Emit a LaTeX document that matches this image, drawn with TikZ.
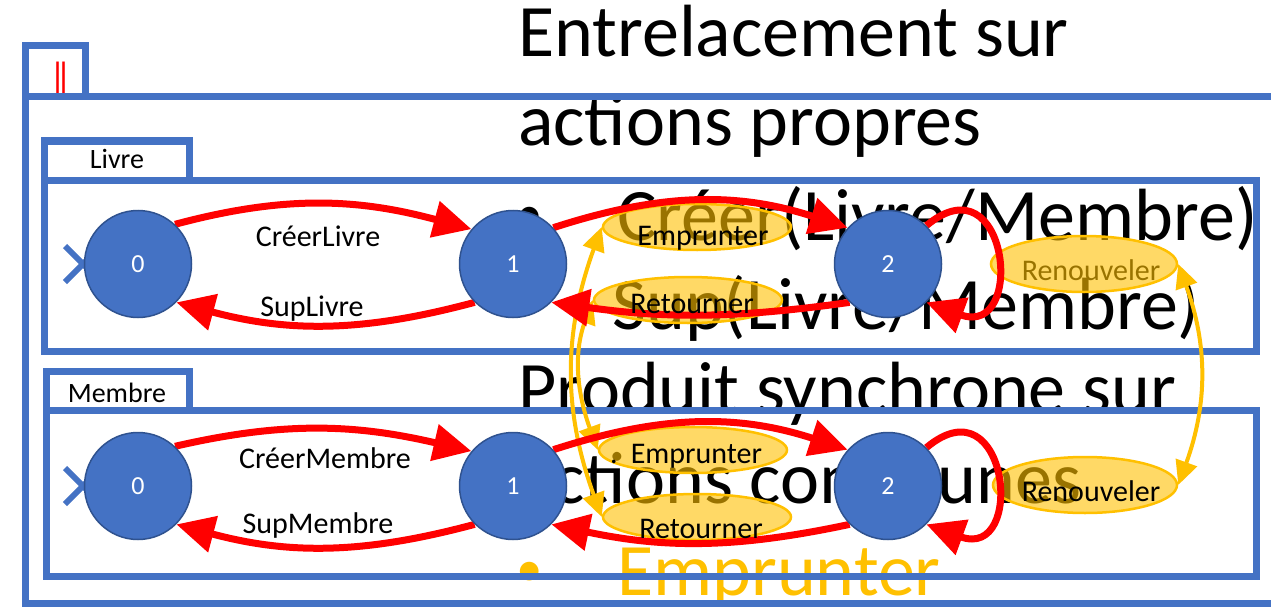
\documentclass[tikz,border=0pt]{standalone}
\usepackage{fontspec}
\setmainfont{Carlito}
\usetikzlibrary{arrows.meta,shapes.geometric}
\definecolor{frameblue}{HTML}{4472C4}
\definecolor{stateedge}{HTML}{2F528F}
\definecolor{actyellow}{HTML}{FFC000}
\pgfdeclarelayer{bg}
\pgfdeclarelayer{acts}
\pgfdeclarelayer{links}
\pgfsetlayers{bg,acts,links,main}
% list bullet of the slide text
\newcommand\slidebullet[1]{\makebox[#1][l]{\raisebox{9pt}{\fontsize{53}{53}\selectfont •}}}
\begin{document}
\begin{tikzpicture}[x=1pt,y=1pt,
  bigtext/.style={anchor=base west, inner sep=0pt, font=\fontsize{74}{80}\selectfont},
  frame/.style={draw=frameblue, line width=7pt},
  tabtext/.style={anchor=base, inner sep=0pt, font=\fontsize{28}{30}\selectfont},
  state/.style={circle, fill=frameblue, draw=stateedge, line width=1.5pt,
    minimum size=107pt, inner sep=0pt, text=white, font=\fontsize{26}{28}\selectfont},
  trans/.style={draw=red, line width=7pt, -{Triangle[length=38pt,width=36pt]}},
  lbl/.style={anchor=base, inner sep=0pt, font=\fontsize{30}{32}\selectfont},
  act/.style={ellipse, draw=actyellow, line width=2.5pt, fill=actyellow, fill opacity=0.6,
    minimum width=188pt, minimum height=46pt, inner sep=0pt},
  sync/.style={draw=actyellow, line width=4pt,
    {Triangle[length=24pt,width=22pt]}-{Triangle[length=24pt,width=22pt]}},
  initmark/.style={draw=frameblue, line width=6pt}
]
\useasboundingbox (0,0) rectangle (1271,-607);

% automaton states
\node[state] (L0) at (138,-264) {0};
\node[state] (L1) at (513,-264) {1};
\node[state] (L2) at (888,-264) {2};
\node[state] (M0) at (138,-486) {0};
\node[state] (M1) at (513,-486) {1};
\node[state] (M2) at (888,-486) {2};

\begin{pgfonlayer}{bg}
  \fill[white] (0,0) rectangle (1271,-607);
  % slide text
  \node[bigtext] (h1) at (518,-57) {Entrelacement sur};
  \node[bigtext] (h2) at (518,-146) {actions propres};
  \node[bigtext] (b1) at (516,-240) {\slidebullet{101pt}Créer(Livre/Membre)};
  \node[bigtext] (b2) at (516,-329) {\slidebullet{96pt}Sup(Livre/Membre)};
  \node[bigtext] (h3) at (518,-413) {Produit synchrone sur};
  \node[bigtext] (h4) at (518,-503) {actions communes};
  \node[bigtext, text=actyellow] (b3) at (516,-595) {\slidebullet{101pt}Emprunter};

  % composition frames
  \draw[frame] (25,-97) rectangle (1300,-603);
  \node[inner sep=0pt, text=red, font=\fontsize{38}{38}\selectfont] (par) at (60.5,-79) {|\kern-11.5pt|};
  \draw[frame] (25,-46) rectangle (85,-97);
  \draw[frame] (44,-180) rectangle (1256,-351);
  \draw[frame] (44,-141) rectangle (189,-180);
  \draw[frame] (46,-410) rectangle (1256,-576);
  \draw[frame] (46,-371) rectangle (189,-410);
  \node[tabtext] (tl) at (117,-168) {Livre};
  \node[tabtext] (tm) at (117,-402) {Membre};

  % initial-state markers
  \coordinate (iLa) at (65,-246); \coordinate (iLb) at (101,-282);
  \coordinate (iLc) at (65,-282); \coordinate (iLd) at (101,-246);
  \draw[initmark] (iLa) -- (iLb);
  \draw[initmark] (iLc) -- (iLd);
  \coordinate (iMa) at (65,-468); \coordinate (iMb) at (101,-504);
  \coordinate (iMc) at (65,-504); \coordinate (iMd) at (101,-468);
  \draw[initmark] (iMa) -- (iMb);
  \draw[initmark] (iMc) -- (iMd);

  \node[lbl] (tNL) at (1091,-280) {Renouveler};
\end{pgfonlayer}

\begin{pgfonlayer}{acts}
  \node[act] (EL) at (697,-227) {};
  \node[act] (RL) at (688,-300) {};
  \node[act, minimum width=186pt, minimum height=56pt] (NL) at (1084,-264) {};
  \node[act] (EM) at (693,-450) {};
  \node[act] (RM) at (697,-517) {};
  \node[act, minimum width=184pt, minimum height=56pt] (NM) at (1085,-485) {};

  % synchronised actions
  \draw[sync] (EL.west) to[out=-110,in=110] (RM.west);
  \draw[sync] (RL.west) to[out=-110,in=110] (EM.west);
  \draw[sync] (NL.east) to[out=-70,in=70] (NM.east);
\end{pgfonlayer}

\begin{pgfonlayer}{links}
  % Livre
  \draw[trans] (L0.47) to[out=15,in=165] (L1.140);
  \draw[trans] (L1.-135) to[out=-165,in=-15] (L0.-45);
  \draw[trans] (L1.42) to[out=18,in=162] (L2.138);
  \draw[trans] (L2.-135) to[out=-172,in=-8] (L1.-45);
  \draw[trans] (L2.45) .. controls +(40:107) and +(-20:107) .. (L2.-45);
  % Membre
  \draw[trans] (M0.47) to[out=13,in=167] (M1.140);
  \draw[trans] (M1.-135) to[out=-165,in=-15] (M0.-45);
  \draw[trans] (M1.42) to[out=18,in=162] (M2.138);
  \draw[trans] (M2.-135) to[out=-168,in=-12] (M1.-45);
  \draw[trans] (M2.45) .. controls +(40:107) and +(-20:107) .. (M2.-45);
\end{pgfonlayer}

% transition labels
\node[lbl] (cL) at (318,-246) {CréerLivre};
\node[lbl] (sL) at (312,-316) {SupLivre};
\node[lbl] (cM) at (325,-468) {CréerMembre};
\node[lbl] (sM) at (318,-533) {SupMembre};
\node[lbl] (tEL) at (703,-245) {Emprunter};
\node[lbl] (tRL) at (692,-313) {Retourner};
\node[lbl, anchor=base west] (tEM) at (610,-463) {.\hspace{13pt}Emprunter};
\node[lbl] (tRM) at (701,-538) {Retourner};
\node[lbl] (tNM) at (1091,-501) {Renouveler};
\end{tikzpicture}
\end{document}
